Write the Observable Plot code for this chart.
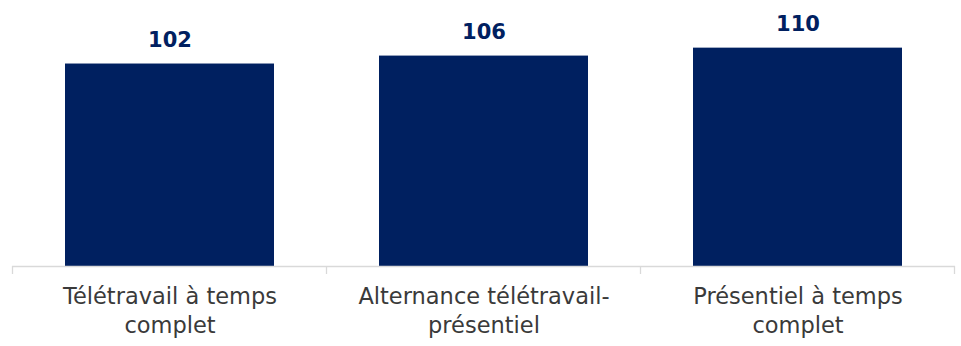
<!DOCTYPE html>
<html>
<head>
<meta charset="utf-8">
<script src="https://cdn.jsdelivr.net/npm/d3@7"></script>
<script src="https://cdn.jsdelivr.net/npm/@observablehq/plot@0.6"></script>
<style>
  html, body { margin: 0; padding: 0; background: #fff; }
  #chart svg { display: block; }
</style>
</head>
<body>
<div id="chart"></div>
<script>
const categories = ["Télétravail à temps\ncomplet", "Alternance télétravail-\nprésentiel", "Présentiel à temps\ncomplet"];
const values = [102, 106, 110];
const valueLabels = ["102", "106", "110"];

const data = categories.map((c, i) => ({category: c, value: values[i], label: valueLabels[i]}));

const navy = "#002060";
const font = "'DejaVu Sans', sans-serif";

const chart = Plot.plot({
  width: 961,
  height: 346,
  marginTop: 0,
  marginBottom: 80,
  marginLeft: 12,
  marginRight: 6,
  style: {fontFamily: font, background: "#fff"},
  x: {domain: categories, paddingInner: 1/3, paddingOuter: 1/6, axis: null},
  y: {domain: [0, 134], axis: null},
  marks: [
    Plot.barY(data, {x: "category", y: "value", fill: navy}),
    Plot.ruleY([0], {stroke: "#d9d9d9", strokeWidth: 1.3}),
    Plot.text(data, {x: "category", y: "value", text: "label", lineAnchor: "bottom", dy: -17,
      fill: navy, fontSize: 21, fontWeight: "bold", fontFamily: font}),
    Plot.text(data, {x: "category", y: 0, text: "category", lineAnchor: "top", dy: 18,
      fill: "#3a3a3a", fontSize: 22.5, lineHeight: 1.25, fontFamily: font})
  ]
});

// tick marks at band boundaries, derived from the plot's own x scale
const xs = chart.scale("x");
const half = (xs.step - xs.bandwidth) / 2;
const y0 = chart.scale("y").apply(0);
const bounds = categories.map(c => xs.apply(c) - half).concat([xs.apply(categories[categories.length - 1]) + xs.bandwidth + half]);
const g = d3.select(chart).append("g").attr("stroke", "#d9d9d9").attr("stroke-width", 1.3);
bounds.forEach(b => g.append("line").attr("x1", b).attr("x2", b).attr("y1", y0).attr("y2", y0 + 8));

document.getElementById("chart").appendChild(chart);
</script>
</body>
</html>
